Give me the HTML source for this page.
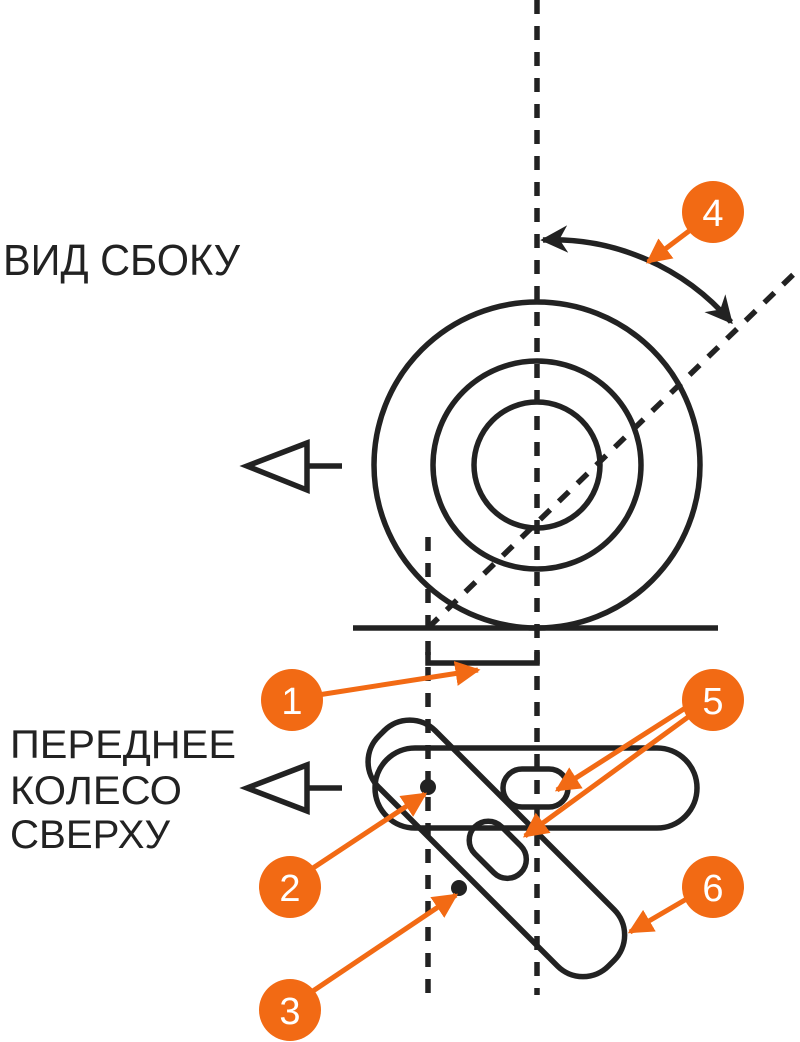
<!DOCTYPE html>
<html><head><meta charset="utf-8"><style>html,body{margin:0;padding:0;background:#fff}svg{display:block}</style></head>
<body>
<svg width="800" height="1042" viewBox="0 0 800 1042" xmlns="http://www.w3.org/2000/svg">
<defs>
<marker id="oa" viewBox="0 0 10 10" refX="9" refY="5" markerWidth="5" markerHeight="5" orient="auto-start-reverse" markerUnits="strokeWidth"><path d="M0,0 L10,5 L0,10 z" fill="#f26a14"/></marker>
<marker id="ba" viewBox="0 0 10 10" refX="9" refY="5" markerWidth="5" markerHeight="5" orient="auto-start-reverse" markerUnits="strokeWidth"><path d="M0,0 L10,5 L0,10 L3,5 z" fill="#222"/></marker>
</defs>
<g fill="none" stroke="#222" stroke-width="5.5">
<line x1="537" y1="0" x2="537" y2="995" stroke-dasharray="14 12"/>
<line x1="428" y1="537" x2="428" y2="995" stroke-dasharray="14 12"/>
<line x1="428" y1="628" x2="800" y2="268" stroke-dasharray="14 12"/>
<circle cx="537" cy="465" r="163"/>
<circle cx="537" cy="465" r="104"/>
<circle cx="537" cy="465" r="63"/>
<line x1="353" y1="628" x2="718" y2="628"/>
<path d="M428,652 V663 H537 V652"/>
<path d="M543,240 A235 235 0 0 1 731,322" marker-start="url(#ba)" marker-end="url(#ba)"/>
<path d="M342,466 H307 M307,443 L247,466 L307,490 Z"/>
<path d="M342,788 H307 M307,765 L247,788 L307,811 Z"/>
<rect x="375" y="748" width="322" height="80" rx="40"/>
<rect x="503" y="769" width="65" height="38" rx="19"/>
<g transform="rotate(45 496 848)">
<rect x="334" y="808" width="325" height="80" rx="36"/>
<rect x="466" y="829" width="65" height="38" rx="19"/>
</g>
</g>
<circle cx="428" cy="787" r="8" fill="#222"/>
<circle cx="459" cy="888" r="8" fill="#222"/>
<g stroke="#f26a14" stroke-width="5" fill="none" marker-end="url(#oa)">
<line x1="318" y1="695" x2="478" y2="670"/>
<line x1="690" y1="705" x2="557" y2="790"/>
<line x1="695" y1="712" x2="525" y2="836"/>
<line x1="310" y1="870" x2="425" y2="794"/>
<line x1="310" y1="993" x2="456" y2="895"/>
<line x1="690" y1="897" x2="630" y2="932"/>
<line x1="693" y1="228" x2="648" y2="262"/>
</g>
<g fill="#f26a14">
<circle cx="713" cy="212" r="31"/>
<circle cx="292" cy="700" r="31"/>
<circle cx="713" cy="700" r="31"/>
<circle cx="290" cy="887" r="31"/>
<circle cx="713" cy="887" r="31"/>
<circle cx="290" cy="1010" r="31"/>
</g>
<g fill="#fff" font-family="Liberation Sans, sans-serif" font-size="38" text-anchor="middle">
<text x="713" y="226">4</text>
<text x="292" y="714">1</text>
<text x="713" y="714">5</text>
<text x="290" y="901">2</text>
<text x="713" y="901">6</text>
<text x="290" y="1024">3</text>
</g>
<g fill="#222" font-family="Liberation Sans, sans-serif">
<text x="3" y="275" font-size="44" textLength="237" lengthAdjust="spacingAndGlyphs">ВИД СБОКУ</text>
<text x="10" y="758" font-size="40" textLength="226" lengthAdjust="spacingAndGlyphs">ПЕРЕДНЕЕ</text>
<text x="10" y="804" font-size="40" textLength="172" lengthAdjust="spacingAndGlyphs">КОЛЕСО</text>
<text x="10" y="848" font-size="40" textLength="160" lengthAdjust="spacingAndGlyphs">СВЕРХУ</text>
</g>
</svg>
</body></html>
